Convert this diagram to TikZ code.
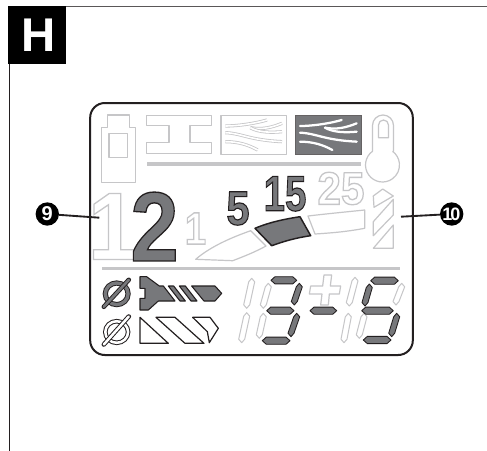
\documentclass[tikz,border=0pt]{standalone}
\usepackage{fontspec}
\setmainfont{Liberation Sans}
\definecolor{ghost}{HTML}{C6C6C8}
\definecolor{darkfill}{HTML}{77787B}
\definecolor{ink}{HTML}{231F20}
\newcommand\ghosttext[1]{\special{pdf:code 1 Tr 1 w}#1\special{pdf:code 0 Tr}}
\newcommand\darktext[2][0.9]{\special{pdf:code 2 Tr #1 w 0.137 0.122 0.125 RG 0.467 0.471 0.482 rg}#2\special{pdf:code 0 Tr}}
\newcommand\Vseg[5]{\draw[#5] (#1,#2) -- ({#1+3},{#2+3.5}) -- ({#3+3},{#4-3.5}) -- (#3,#4) -- ({#3-3},{#4-3.5}) -- ({#1-3},{#2+3.5}) -- cycle;}
\newcommand\Hseg[4]{\draw[#4] (#1,#3) -- ({#1+4},{#3-3.6}) -- ({#2-4},{#3-3.6}) -- (#2,#3) -- ({#2-4},{#3+3.6}) -- ({#1+4},{#3+3.6}) -- cycle;}
\newcommand\GrainLines[1]{
  \draw[#1] (150,108) .. controls (190,108) and (240,100) .. (275,90);
  \draw[#1] (320,100) .. controls (290,112) and (260,120) .. (225,113);
  \draw[#1] (225,113) .. controls (250,128) and (290,128) .. (320,125);
  \draw[#1] (150,128) .. controls (200,130) and (220,150) .. (320,155);
  \draw[#1] (150,155) .. controls (190,155) and (220,165) .. (247,180);
}
\tikzset{
  x=0.75pt,y=-0.75pt,
  ghostline/.style={draw=ghost,line width=0.9pt,line join=round,fill=white},
  darkshape/.style={draw=ink,line width=0.8pt,line join=round,fill=darkfill},
  whiteshape/.style={draw=ink,line width=0.9pt,line join=round,fill=white},
  ghostseg/.style={draw=ghost,line width=0.75pt,line join=round,fill=white},
  darkseg/.style={draw=ink,line width=0.65pt,line join=round,fill=darkfill},
  rulebar/.style={draw=none,fill=ghost},
  digit/.style={inner sep=0pt,transform shape,font=\fontsize{#1}{#1}\selectfont\bfseries},
  callout/.style={circle,fill=black,text=white,inner sep=0pt,minimum size=17.5pt,font=\fontsize{15}{15}\selectfont\bfseries},
  leaderline/.style={draw=ink,line width=1.4pt},
  zoomB/.style={shift={(250,90)},x=0.25pt,y=-0.25pt},
  zoomC/.style={shift={(80,220)},x=0.25pt,y=-0.25pt},
  zoomD/.style={shift={(250,220)},x=0.25pt,y=-0.25pt},
}
\begin{document}
\begin{tikzpicture}
\useasboundingbox (0,0) rectangle (487,451);
\fill[white] (0,0) rectangle (487,451);
% outer frame
\draw[draw=ink!75,line width=1.1pt] (66,6.3) -- (487,6.3);
\draw[draw=ink,line width=1.1pt] (9.3,60) -- (9.3,451);
\node[fill=black,minimum width=43.5pt,minimum height=43pt,inner sep=0pt,anchor=north west,text=white,font=\fontsize{35.5}{35.5}\selectfont\bfseries] (tag) at (8,6) {\hspace*{2pt}H};
% LCD outline
\node[draw=ink,line width=1.5pt,rounded corners=11pt,minimum width=242pt,minimum height=189pt,inner sep=0pt] (lcd) at (251.5,229) {};
% battery
\draw[ghostline] (101.7,127.3) -- (107.3,127.3) -- (107.3,115) -- (129.3,115) -- (129.3,127.3) -- (135.7,127.3) -- (135.7,182.3) -- (101.7,182.3) -- cycle;
\draw[ghostline] (109,133.3) rectangle (127.7,157.7);
% I-beam
\draw[ghostline] (146.7,115.7) -- (211.7,115.7) -- (211.7,125.7) -- (190,125.7) -- (190,142.7) -- (211.7,142.7) -- (211.7,153.3) -- (146.7,153.3) -- (146.7,142.7) -- (169,142.7) -- (169,125.7) -- (146.7,125.7) -- cycle;
% material icons
\draw[ghostline] (221,115.7) rectangle (286.7,154.3);
\begin{scope}[zoomB,shift={(-224,0)}]
\GrainLines{draw=ghost,line width=0.6pt,double=white,double distance=1.2pt}
\end{scope}
\draw[draw=ink!70,line width=0.7pt,fill=darkfill] (295.7,115.7) rectangle (361.3,154);
\begin{scope}[zoomB]
\GrainLines{draw=white,line width=1.7pt,line cap=round}
\end{scope}
% thermometer
\draw[ghostline] (393.5,151.25) -- (393.5,125.5) arc[start angle=0,end angle=-180,radius=10.5] -- (372.5,151.25) arc[start angle=233.97,end angle=-53.97,radius=17];
\draw[ghostline] (378.5,137.7) -- (378.5,125) arc[start angle=180,end angle=360,radius=5] -- (388.5,137.7) -- cycle;
% rules
\fill[rulebar] (146.7,162.2) rectangle (360.7,165.7);
\fill[rulebar] (102,266.5) rectangle (400,270);
% drill ghost
\draw[ghostline] (373.3,196) -- (382.7,189) -- (393.3,196) -- (374,207.3) -- cycle;
\draw[ghostline] (393.3,199.3) -- (393.3,215) -- (373.3,235.7) -- (373.3,221.7) -- cycle;
\draw[ghostline] (393.3,225) -- (393.3,248.3) -- (373.3,248.3) -- cycle;
% digits
\node[digit=72,text=ghost,xscale=.92] (bigone) at (112.5,226.5) {\ghosttext{1}};
\node[digit=74,text=darkfill,xscale=.88] (bigtwo) at (154.5,226.5) {\darktext[1]{2}};
\node[digit=34,text=ghost,xscale=.85] (smallone) at (195.5,228.5) {\ghosttext{1}};
\node[digit=36,text=darkfill,xscale=.87] (five) at (238,208.5) {\darktext[0.85]{5}};
\node[digit=37.5,text=darkfill,xscale=.77] (fifteen) at (285,193.8) {\darktext[0.85]{15}};
\node[digit=34.5,text=ghost,xscale=.92] (twentyfive) at (341,188.5) {\ghosttext{25}};
% gauge
\draw[ghostline] (195.7,259.3) .. controls (210,247) and (230,238) .. (250.7,230.7) -- (266,246) .. controls (255,252) and (245,256) .. (232.7,260.7) -- cycle;
\draw[ghostline] (308,216) .. controls (325,214) and (345,212) .. (364.7,210) -- (364.7,228.3) .. controls (345,232) and (330,233) .. (315,234) -- cycle;
\draw[darkshape,line width=1.1pt] (255,228.3) .. controls (270,222) and (285,219) .. (300,216.7) -- (310.7,235.7) .. controls (295,238) and (285,241) .. (271.7,245.7) -- cycle;
% diameter symbols
\draw[draw=ink,line width=3.9pt] (116.7,293.8) ellipse[x radius=11.4,y radius=10.8];
\draw[draw=darkfill,line width=2.5pt] (116.7,293.8) ellipse[x radius=11.4,y radius=10.8];
\draw[draw=ink,line width=3.4pt,line cap=round] (103.8,306.8) -- (128.8,279.8);
\draw[draw=darkfill,line width=2pt,line cap=round] (103.8,306.8) -- (128.8,279.8);
\draw[draw=ink,line width=3.4pt] (116.7,332) ellipse[x radius=11.4,y radius=10.8];
\draw[draw=white,line width=1.9pt] (116.7,332) ellipse[x radius=11.4,y radius=10.8];
\draw[draw=ink,line width=3.4pt,line cap=round] (103.8,344.5) -- (128.8,316.5);
\draw[draw=white,line width=1.9pt,line cap=round] (103.8,344.5) -- (128.8,316.5);
% screw and bit
\begin{scope}[zoomC]
\draw[darkshape] (180,170) -- (200,170) -- (238,198) -- (250,198) -- (285,243) -- (235,243) -- (205,270) -- (180,270) -- (180,235) -- (195,235) -- (195,205) -- (180,205) -- cycle;
\draw[darkshape] (265,198) -- (281,198) -- (316,243) -- (300,243) -- cycle;
\draw[darkshape] (298,198) -- (316,198) -- (351,243) -- (333,243) -- cycle;
\draw[darkshape] (335,198) -- (405,198) -- (425,220) -- (405,243) -- (372,243) -- cycle;
\draw[whiteshape] (180,292) -- (180,370) -- (265,370) -- cycle;
\draw[whiteshape] (228,292) -- (285,292) -- (372,370) -- (315,370) -- cycle;
\draw[whiteshape] (338,292) -- (390,292) -- (415,325) -- (388,368) -- (382,335) -- cycle;
\end{scope}
% LCD numerals: ghost
\Vseg{251.7}{278.3}{246.7}{308.3}{ghostseg}
\Vseg{246.7}{312.7}{241.7}{342.7}{ghostseg}
\Vseg{268.3}{283.3}{263.3}{308.3}{ghostseg}
\Vseg{263.3}{313.3}{259.3}{338.3}{ghostseg}
\begin{scope}[zoomD]
\draw[ghostline] (222,165) -- (245,165) -- (241,198) -- (272,198) -- (268,222) -- (238,222) -- (235,255) -- (212,255) -- (216,222) -- (178,222) -- (182,198) -- (218,198) -- cycle;
\end{scope}
\Vseg{355}{277.3}{349.3}{306}{ghostseg}
\Vseg{348.3}{313.3}{344}{342.7}{ghostseg}
\Vseg{401.7}{283.3}{396}{305}{ghostseg}
\Vseg{364}{313.3}{359.3}{338.3}{ghostseg}
% LCD numerals: dark
\Hseg{271}{296.7}{280.3}{darkseg}
\Hseg{266.7}{294}{310.7}{darkseg}
\Hseg{262.3}{290}{340.7}{darkseg}
\Vseg{299.3}{283.3}{294.3}{305}{darkseg}
\Vseg{296.7}{313.3}{291}{336.7}{darkseg}
\Hseg{310}{336.7}{310.7}{darkseg}
\Hseg{370.7}{398.3}{280.7}{darkseg}
\Hseg{361.7}{393.3}{310.7}{darkseg}
\Hseg{363.3}{391}{340}{darkseg}
\Vseg{369.3}{284}{365}{306}{darkseg}
\Vseg{396.7}{313.3}{391.7}{336.7}{darkseg}
% callouts
\node[callout] (nine) at (47.3,214) {9};
\node[callout,font=\fontsize{13.5}{13.5}\selectfont\bfseries] (ten) at (451.7,214) {\kern-0.5pt 1\kern-1.5pt 0};
\coordinate (nineend) at (99.3,217.7);
\coordinate (tenend) at (401,216.7);
\draw[leaderline] (nine) -- (nineend);
\draw[leaderline] (ten) -- (tenend);
\end{tikzpicture}
\end{document}
